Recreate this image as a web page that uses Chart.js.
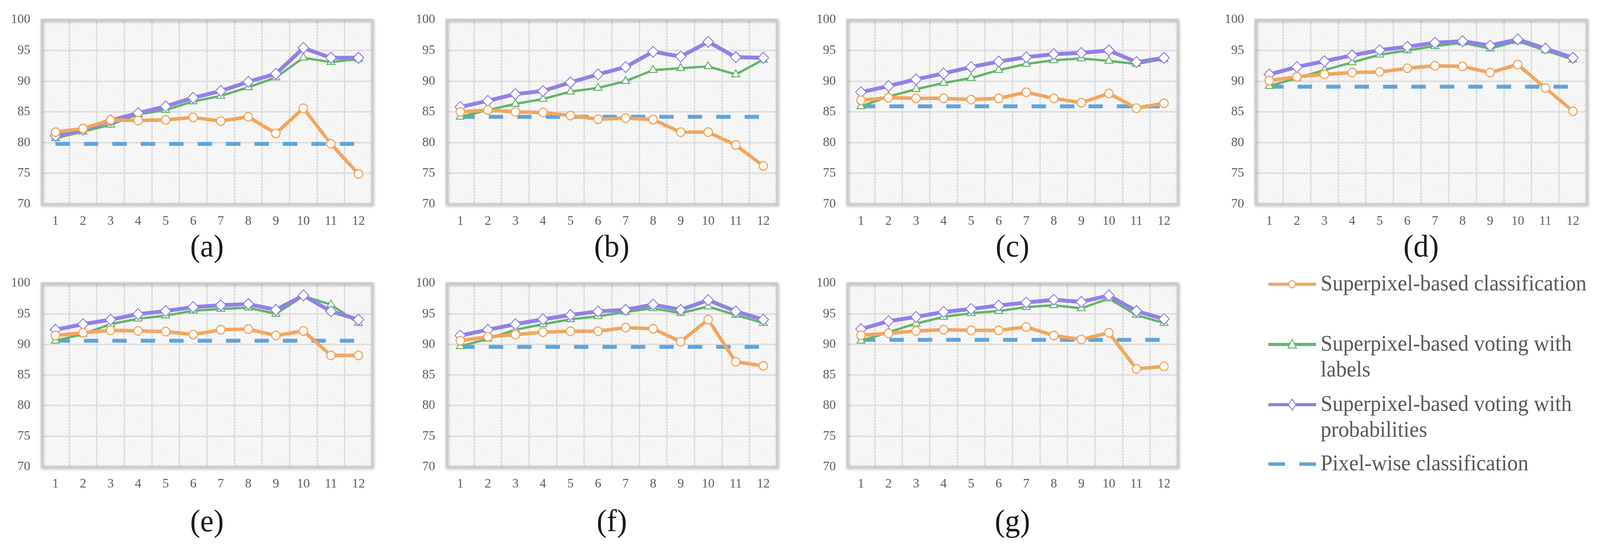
<!DOCTYPE html>
<html><head><meta charset="utf-8">
<script src="https://cdn.jsdelivr.net/npm/chart.js@4.4.1/dist/chart.umd.min.js"></script>
<style>
html,body{margin:0;padding:0;background:#fff;overflow:hidden;}
#page{width:4221px;height:1394px;position:absolute;left:0;top:0;transform-origin:0 0;font-family:"Liberation Serif","Times New Roman",serif;}
.panel{position:absolute;}
.panel canvas{display:block;}
.cap{position:absolute;font-size:80px;color:#1a1a1a;transform:translate(-50%,-50%);line-height:1;white-space:nowrap;}
.leg{position:absolute;font-size:58px;color:#595959;line-height:66px;white-space:nowrap;transform-origin:0 0;transform:scaleX(0.97);}
.legsym{position:absolute;}
</style></head><body><div id="page"></div>
<script>
// ---------- data ----------
const categories = ['1','2','3','4','5','6','7','8','9','10','11','12'];
const yTicks = [70, 75, 80, 85, 90, 95, 100];
const panelLabels = ['(a)','(b)','(c)','(d)','(e)','(f)','(g)'];
const seriesNames = ['Superpixel-based classification','Superpixel-based voting with labels','Superpixel-based voting with probabilities','Pixel-wise classification'];

const classA = [81.7, 82.3, 83.7, 83.6, 83.7, 84.1, 83.5, 84.2, 81.5, 85.6, 79.8, 74.9];
const labelsA = [80.7, 81.8, 82.9, 84.6, 85.3, 86.7, 87.6, 89.0, 90.6, 93.8, 93.1, 93.6];
const probA = [81.1, 82.1, 83.6, 84.8, 85.9, 87.3, 88.4, 89.9, 91.2, 95.4, 93.8, 93.8];
const pixelA = [79.8, 79.8, 79.8, 79.8, 79.8, 79.8, 79.8, 79.8, 79.8, 79.8, 79.8, 79.8];

const classB = [85.0, 85.3, 85.0, 84.9, 84.4, 83.8, 84.0, 83.75, 81.7, 81.7, 79.6, 76.2];
const labelsB = [84.2, 85.3, 86.3, 87.1, 88.3, 88.9, 90.0, 91.8, 92.1, 92.4, 91.1, 93.5];
const probB = [85.8, 86.8, 87.9, 88.4, 89.8, 91.1, 92.3, 94.8, 94.0, 96.4, 93.9, 93.8];
const pixelB = [84.2, 84.2, 84.2, 84.2, 84.2, 84.2, 84.2, 84.2, 84.2, 84.2, 84.2, 84.2];

const classC = [86.9, 87.3, 87.2, 87.2, 87.0, 87.2, 88.2, 87.2, 86.5, 88.0, 85.6, 86.4];
const labelsC = [85.9, 87.5, 88.7, 89.7, 90.5, 91.8, 92.8, 93.4, 93.7, 93.3, 92.8, 93.6];
const probC = [88.2, 89.2, 90.3, 91.25, 92.3, 93.2, 93.9, 94.4, 94.6, 95.0, 93.1, 93.8];
const pixelC = [85.9, 85.9, 85.9, 85.9, 85.9, 85.9, 85.9, 85.9, 85.9, 85.9, 85.9, 85.9];

const classD = [90.1, 90.7, 91.1, 91.4, 91.5, 92.1, 92.5, 92.4, 91.4, 92.7, 88.9, 85.1];
const labelsD = [89.2, 90.5, 91.8, 93.05, 94.3, 95.0, 95.7, 96.25, 95.3, 96.5, 95.0, 93.5];
const probD = [91.1, 92.3, 93.25, 94.2, 95.05, 95.6, 96.25, 96.5, 95.8, 96.8, 95.3, 93.8];
const pixelD = [89.1, 89.1, 89.1, 89.1, 89.1, 89.1, 89.1, 89.1, 89.1, 89.1, 89.1, 89.1];

const classE = [91.45, 91.9, 92.3, 92.2, 92.1, 91.6, 92.4, 92.5, 91.45, 92.2, 88.2, 88.2];
const labelsE = [90.6, 91.7, 93.3, 94.2, 94.7, 95.5, 95.8, 96.0, 95.0, 97.9, 96.5, 93.5];
const probE = [92.4, 93.3, 94.05, 94.95, 95.45, 96.1, 96.4, 96.6, 95.65, 98.0, 95.4, 94.05];
const pixelE = [90.6, 90.6, 90.6, 90.6, 90.6, 90.6, 90.6, 90.6, 90.6, 90.6, 90.6, 90.6];

const classF = [90.6, 91.25, 91.6, 92.0, 92.15, 92.15, 92.75, 92.55, 90.45, 94.05, 87.15, 86.5];
const labelsF = [89.7, 90.9, 92.4, 93.3, 94.1, 94.6, 95.3, 95.9, 95.1, 96.2, 94.8, 93.5];
const probF = [91.45, 92.4, 93.3, 94.1, 94.8, 95.4, 95.65, 96.5, 95.65, 97.25, 95.4, 94.05];
const pixelF = [89.6, 89.6, 89.6, 89.6, 89.6, 89.6, 89.6, 89.6, 89.6, 89.6, 89.6, 89.6];

const classG = [91.5, 91.8, 92.2, 92.4, 92.3, 92.3, 92.85, 91.45, 90.8, 91.9, 86.0, 86.4];
const labelsG = [90.6, 92.0, 93.4, 94.5, 95.1, 95.45, 96.1, 96.4, 95.9, 97.5, 94.8, 93.5];
const probG = [92.5, 93.8, 94.5, 95.3, 95.8, 96.35, 96.85, 97.3, 96.95, 98.0, 95.45, 94.15];
const pixelG = [90.75, 90.75, 90.75, 90.75, 90.75, 90.75, 90.75, 90.75, 90.75, 90.75, 90.75, 90.75];

// ---------- style / layout ----------
const ORANGE = '#F2A65E', GREEN = '#62B468', PURPLE = '#9080E8', BLUE = '#5EA4DE';
const TICK_COLOR = '#595959', GRID = '#dedede';
const FONT = '"Liberation Serif", "Times New Roman", serif';
const Y_AXIS_W = 110, X_AXIS_H = 80, PAD_TOP = 40, PAD_RIGHT = 22;

// fit the 4221x1394 design to the actual viewport
const page = document.getElementById('page');
const sx = window.innerWidth / 4221, sy = window.innerHeight / 1394;
if (Math.abs(sx - 1) > 0.002 || Math.abs(sy - 1) > 0.002) page.style.transform = 'scale(' + sx + ',' + sy + ')';

const panels = [
  {data:[classA, labelsA, probA, pixelA], left:110, top:40, w:872, h:482},
  {data:[classB, labelsB, probB, pixelB], left:1178, top:40, w:872, h:482},
  {data:[classC, labelsC, probC, pixelC], left:2235, top:40, w:872, h:482},
  {data:[classD, labelsD, probD, pixelD], left:3312, top:40, w:874, h:482},
  {data:[classE, labelsE, probE, pixelE], left:110, top:714, w:872, h:480},
  {data:[classF, labelsF, probF, pixelF], left:1178, top:714, w:872, h:480},
  {data:[classG, labelsG, probG, pixelG], left:2235, top:714, w:872, h:480}
];
const captionY = [629, 629, 629, 629, 1332, 1332, 1332];

// hatch pattern
const T = 8;
const pc = document.createElement('canvas'); pc.width = T; pc.height = T;
const pctx = pc.getContext('2d');
pctx.fillStyle = '#ffffff'; pctx.fillRect(0,0,T,T);
pctx.strokeStyle = '#c2c2c2'; pctx.lineWidth = 1.0;
for (let k = -1; k <= 1; k++) { pctx.beginPath(); pctx.moveTo(k*T, 0); pctx.lineTo(k*T+T, T); pctx.stroke(); }

const plotDeco = {
  id: 'plotDeco',
  beforeDraw(chart) {
    const {ctx, chartArea: a} = chart;
    ctx.save();
    ctx.fillStyle = ctx.createPattern(pc, 'repeat');
    ctx.fillRect(a.left, a.top, a.right - a.left, a.bottom - a.top);
    ctx.restore();
  },
  beforeDatasetsDraw(chart) {
    const {ctx, chartArea: a} = chart;
    ctx.save();
    ctx.shadowColor = 'rgba(0,0,0,0.35)'; ctx.shadowBlur = 7; ctx.shadowOffsetX = 2; ctx.shadowOffsetY = 3;
    ctx.strokeStyle = '#cccccc'; ctx.lineWidth = 5;
    ctx.strokeRect(a.left, a.top, a.right - a.left, a.bottom - a.top);
    ctx.restore();
  }
};

panels.forEach((p, i) => {
  const W = Y_AXIS_W + p.w + PAD_RIGHT, H = PAD_TOP + p.h + X_AXIS_H;
  const div = document.createElement('div'); div.className = 'panel';
  div.style.left = (p.left - Y_AXIS_W) + 'px'; div.style.top = (p.top - PAD_TOP) + 'px';
  div.style.width = W + 'px'; div.style.height = H + 'px';
  const cv = document.createElement('canvas'); cv.width = W; cv.height = H;
  cv.style.width = W + 'px'; cv.style.height = H + 'px';
  div.appendChild(cv); page.appendChild(div);

  const cap = document.createElement('div'); cap.className = 'cap';
  cap.textContent = panelLabels[i];
  cap.style.left = (p.left + p.w / 2) + 'px'; cap.style.top = captionY[i] + 'px';
  page.appendChild(cap);

  const [cls, lab, prob, pix] = p.data;
  new Chart(cv, {
    type: 'line',
    data: {
      labels: categories,
      datasets: [
        {label: seriesNames[0], data: cls, borderColor: ORANGE, borderWidth: 9, pointStyle: 'circle', pointRadius: 11,
         pointBorderWidth: 3, pointBackgroundColor: '#ffffff', pointBorderColor: ORANGE, order: 1},
        {label: seriesNames[1], data: lab, borderColor: GREEN, borderWidth: 6, pointStyle: 'triangle', pointRadius: 12,
         pointBorderWidth: 2.5, pointBackgroundColor: '#ffffff', pointBorderColor: GREEN, order: 3},
        {label: seriesNames[2], data: prob, borderColor: PURPLE, borderWidth: 10, pointStyle: 'rectRot', pointRadius: 14,
         pointBorderWidth: 2.5, pointBackgroundColor: '#ffffff', pointBorderColor: PURPLE, order: 2},
        {label: seriesNames[3], data: pix, borderColor: BLUE, borderWidth: 10, borderDash: [38, 37], pointRadius: 0, order: 4}
      ]
    },
    options: {
      responsive: false, animation: false, devicePixelRatio: 1,
      layout: {padding: {top: PAD_TOP, right: PAD_RIGHT, left: 0, bottom: 0}},
      plugins: {legend: {display: false}, tooltip: {enabled: false}, title: {display: false}},
      elements: {line: {tension: 0, borderJoinStyle: 'round', borderCapStyle: 'butt', fill: false}},
      scales: {
        x: {
          type: 'category', offset: true,
          grid: {offset: true, color: GRID, lineWidth: 4, drawTicks: false},
          border: {display: false},
          ticks: {color: TICK_COLOR, font: {size: 34, family: FONT}, padding: 24, maxRotation: 0, autoSkip: false},
          afterFit(s) { s.height = X_AXIS_H; }
        },
        y: {
          min: 70, max: 100,
          grid: {color: GRID, lineWidth: 4, drawTicks: false},
          border: {display: false},
          ticks: {color: TICK_COLOR, font: {size: 34, family: FONT}, padding: 30},
          afterBuildTicks(s) { s.ticks = yTicks.map(v => ({value: v})); },
          afterFit(s) { s.width = Y_AXIS_W; }
        }
      }
    },
    plugins: [plotDeco]
  });
});

// ---------- legend ----------
const legendItems = [
  {lines: ['Superpixel-based classification'], cy: 727, color: ORANGE, sym: 'circle'},
  {lines: ['Superpixel-based voting with', 'labels'], cy: 881, color: GREEN, sym: 'triangle'},
  {lines: ['Superpixel-based voting with', 'probabilities'], cy: 1035, color: PURPLE, sym: 'diamond'},
  {lines: ['Pixel-wise classification'], cy: 1187, color: BLUE, sym: 'dash'}
];
const SVGNS = 'http://www.w3.org/2000/svg';
legendItems.forEach(it => {
  const svg = document.createElementNS(SVGNS, 'svg');
  svg.setAttribute('width', 126); svg.setAttribute('height', 40);
  svg.setAttribute('class', 'legsym');
  svg.style.left = '3346px'; svg.style.top = (it.cy - 20) + 'px';
  let inner = '';
  if (it.sym === 'dash') {
    inner = `<line x1="0" y1="20" x2="44" y2="20" stroke="${it.color}" stroke-width="9"/>` +
            `<line x1="82" y1="20" x2="126" y2="20" stroke="${it.color}" stroke-width="9"/>`;
  } else {
    inner = `<line x1="0" y1="20" x2="126" y2="20" stroke="${it.color}" stroke-width="8"/>`;
    if (it.sym === 'circle') inner += `<circle cx="63" cy="20" r="9" fill="#fff" stroke="${it.color}" stroke-width="3"/>`;
    if (it.sym === 'triangle') inner += `<polygon points="63,7 74,29 52,29" fill="#fff" stroke="${it.color}" stroke-width="2.5"/>`;
    if (it.sym === 'diamond') inner += `<polygon points="63,6 73,20 63,34 53,20" fill="#fff" stroke="${it.color}" stroke-width="2.5"/>`;
  }
  svg.innerHTML = inner;
  page.appendChild(svg);
  const t = document.createElement('div'); t.className = 'leg';
  t.style.left = '3484px'; t.style.top = (it.cy - 36) + 'px';
  t.innerHTML = it.lines.join('<br>');
  page.appendChild(t);
});
</script>
</body></html>
